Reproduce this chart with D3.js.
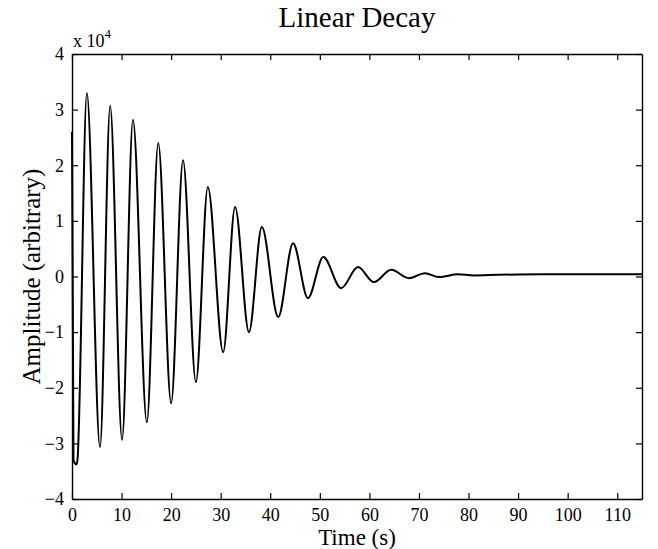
<!DOCTYPE html>
<html>
<head>
<meta charset="utf-8">
<script src="https://cdn.jsdelivr.net/npm/d3@7"></script>
<style>
    body { margin: 0; background: #fff; }
    svg text { font-family: "Liberation Serif", "Times New Roman", serif; fill: #000; }
</style>
</head>
<body>
<svg id="chart" width="658" height="549"></svg>
<script>

// turning points of the trace (amplitude in units of 1e4)
const times = [0, 0.3, 0.9, 1.1, 3.0, 5.65, 7.7, 10.1, 12.3, 15.1, 17.4, 20.0, 22.4, 25.0, 27.4,
    30.5, 32.9, 35.7, 38.3, 41.6, 44.6, 47.6, 50.7, 54.3, 57.7, 60.9, 64.4, 68.0, 71.2,
    74.0, 77.9, 81.0, 86.0, 95.0, 105.0, 115.0];
const amplitudes = [2.6, -3.3, -3.38, -3.3, 3.3, -3.07, 3.07, -2.94, 2.82, -2.62, 2.40, -2.28, 2.09, -1.90, 1.61,
    -1.36, 1.25, -1.0, 0.89, -0.73, 0.60, -0.39, 0.35, -0.21, 0.17, -0.10, 0.12, -0.03, 0.06,
    -0.01, 0.04, 0.02, 0.03, 0.04, 0.04, 0.04];

const xTicks = [0, 10, 20, 30, 40, 50, 60, 70, 80, 90, 100, 110];
const yTicks = [-4, -3, -2, -1, 0, 1, 2, 3, 4];

const titleText = "Linear Decay";
const xLabel = "Time (s)";
const yLabel = "Amplitude (arbitrary)";

var svg = d3.select("#chart");
var margin = {
    top: 54,
    right: 16,
    bottom: 50,
    left: 72
};
const width = 658 - margin.left - margin.right;
const height = 549 - margin.top - margin.bottom;

var g = svg.append("g").attr("transform", "translate(" + margin.left + "," + margin.top + ")");

var x = d3.scaleLinear()
    .domain([0, 115])
    .range([0, width]);

var y = d3.scaleLinear()
    .domain([-4, 4])
    .range([height, 0]);

// matlab style box: ticks point inwards on all four sides
function styleAxis(sel) {
    sel.selectAll("path").attr("stroke", "#000").attr("stroke-width", 1.4);
    sel.selectAll("line").attr("stroke", "#000").attr("stroke-width", 1.2);
    sel.selectAll("text").attr("font-size", 18).attr("fill", "#000")
        .style("font-family", "'Liberation Serif', 'Times New Roman', serif");
}

g.append("g")
    .attr("transform", "translate(0," + height + ")")
    .call(d3.axisBottom(x).tickValues(xTicks).tickSize(-6).tickSizeOuter(0).tickPadding(9).tickFormat(d3.format("d")))
    .call(styleAxis);

g.append("g")
    .call(d3.axisTop(x).tickValues(xTicks).tickSize(-6).tickSizeOuter(0).tickFormat(""))
    .call(styleAxis);

g.append("g")
    .call(d3.axisLeft(y).tickValues(yTicks).tickSize(-6).tickSizeOuter(0).tickPadding(8).tickFormat(d3.format("d")))
    .call(styleAxis);

g.append("g")
    .attr("transform", "translate(" + width + ",0)")
    .call(d3.axisRight(y).tickValues(yTicks).tickSize(-6).tickSizeOuter(0).tickFormat(""))
    .call(styleAxis);

g.selectAll(".domain").attr("fill", "none");

var line = d3.line()
    .x(function (d) { return x(d[0]); })
    .y(function (d) { return y(d[1]); })
    .curve(d3.curveMonotoneX);

g.append("path")
    .datum(times.map(function (t, i) { return [t, amplitudes[i]]; }))
    .attr("fill", "none")
    .attr("stroke", "#000")
    .attr("stroke-width", 2)
    .attr("stroke-linejoin", "round")
    .attr("d", line);

// exponent above the y axis
var expo = svg.append("text")
    .attr("x", margin.left + 1)
    .attr("y", margin.top - 7)
    .attr("font-size", 18);
expo.append("tspan").text("x 10");
expo.append("tspan").attr("font-size", 13).attr("dy", -9).text("4");

svg.append("text")
    .attr("x", margin.left + width / 2)
    .attr("y", 27)
    .attr("text-anchor", "middle")
    .attr("font-size", 29)
    .text(titleText);

svg.append("text")
    .attr("x", margin.left + width / 2)
    .attr("y", 545)
    .attr("text-anchor", "middle")
    .attr("font-size", 23)
    .text(xLabel);

svg.append("text")
    .attr("transform", "translate(40," + (margin.top + height / 2) + ") rotate(-90)")
    .attr("text-anchor", "middle")
    .attr("font-size", 25)
    .text(yLabel);

</script>
</body>
</html>
